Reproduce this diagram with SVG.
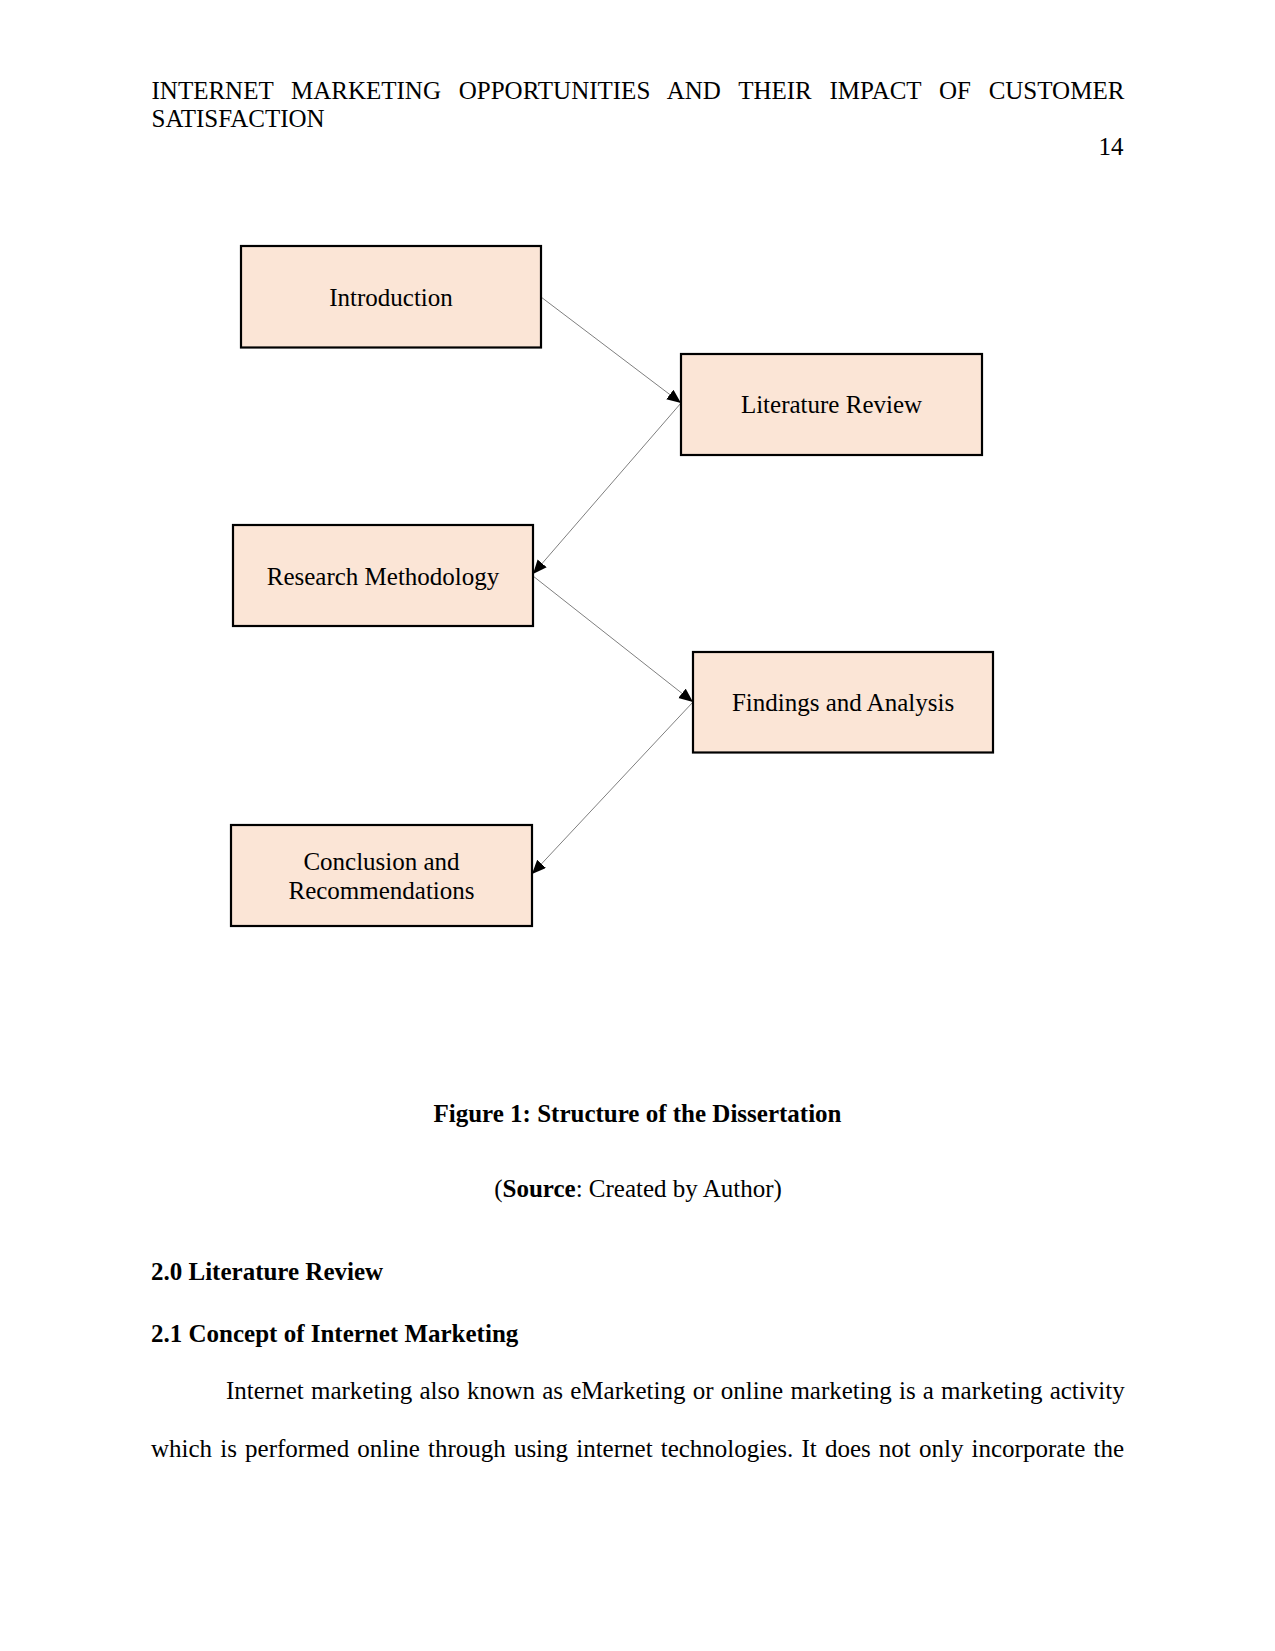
<svg xmlns="http://www.w3.org/2000/svg" width="1275" height="1651" viewBox="0 0 1275 1651">
<style>
  .t { font-family: "Liberation Serif", "Times New Roman", serif; font-size: 25px; fill: #000; }
  .b { font-weight: bold; }
  .box { fill: #FBE5D6; stroke: #000; stroke-width: 2.2; }
  .lbl { font-family: "Liberation Serif", "Times New Roman", serif; font-size: 25px; fill: #000; text-anchor: middle; }
  .con { stroke: #7f7f7f; stroke-width: 1; fill: none; marker-end: url(#ah); }
</style>
<defs>
  <marker id="ah" markerUnits="userSpaceOnUse" markerWidth="15" markerHeight="13" refX="14" refY="6" orient="auto">
    <path d="M0,0 L14,6 L0,12 z" fill="#000"/>
  </marker>
</defs>
<rect width="1275" height="1651" fill="#fff"/>
<g id="page-header">
  <text class="t" x="151.5" y="98.5" word-spacing="11.5">INTERNET MARKETING OPPORTUNITIES AND THEIR IMPACT OF CUSTOMER</text>
  <text class="t" x="151.5" y="126.7">SATISFACTION</text>
  <text class="t" x="1123.5" y="155" text-anchor="end">14</text>
</g>
<g id="connectors">
  <line class="con" x1="541" y1="297" x2="681" y2="403"/>
  <line class="con" x1="681" y1="403" x2="533" y2="574"/>
  <line class="con" x1="533" y1="576" x2="693" y2="702"/>
  <line class="con" x1="693" y1="702" x2="532" y2="874"/>
</g>
<g id="node-introduction">
  <rect class="box" x="241" y="246" width="300" height="101.5"/>
  <text class="lbl" x="391" y="305.5">Introduction</text>
</g>
<g id="node-literature-review">
  <rect class="box" x="681" y="354" width="301" height="101"/>
  <text class="lbl" x="831.5" y="413">Literature Review</text>
</g>
<g id="node-research-methodology">
  <rect class="box" x="233" y="525" width="300" height="101"/>
  <text class="lbl" x="383" y="584.5">Research Methodology</text>
</g>
<g id="node-findings-analysis">
  <rect class="box" x="693" y="652" width="300" height="100.5"/>
  <text class="lbl" x="843" y="711">Findings and Analysis</text>
</g>
<g id="node-conclusion">
  <rect class="box" x="231" y="825" width="301" height="101"/>
  <text class="lbl" x="381.5" y="870">Conclusion and</text>
  <text class="lbl" x="381.5" y="899">Recommendations</text>
</g>
<g id="caption">
  <text class="t b" x="637.5" y="1122.3" text-anchor="middle">Figure 1: Structure of the Dissertation</text>
  <text class="t" x="638" y="1196.7" text-anchor="middle">(<tspan class="b">Source</tspan>: Created by Author)</text>
</g>
<g id="body">
  <text class="t b" x="151" y="1280">2.0 Literature Review</text>
  <text class="t b" x="151" y="1341.7">2.1 Concept of Internet Marketing</text>
  <text class="t" x="226" y="1399" word-spacing="0.95">Internet marketing also known as eMarketing or online marketing is a marketing activity</text>
  <text class="t" x="151" y="1457.3" word-spacing="1.9">which is performed online through using internet technologies. It does not only incorporate the</text>
</g>
</svg>
